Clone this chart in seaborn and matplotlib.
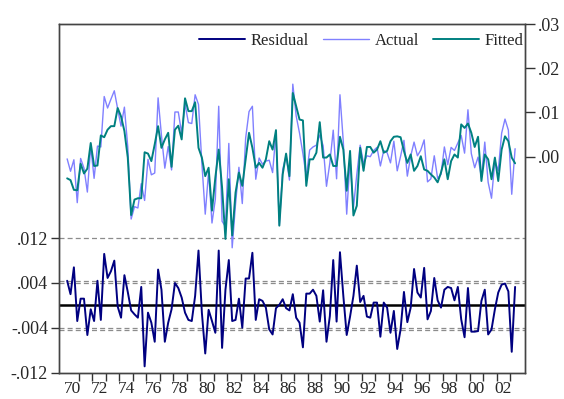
import numpy as np
import pandas as pd
import matplotlib
matplotlib.use("Agg")
import matplotlib.pyplot as plt
import seaborn as sns

# quarterly observations, 1970Q1 - 2003Q2
years = np.repeat(np.arange(1970, 2004), 4)[:134]
quarters = np.tile([1, 2, 3, 4], 34)[:134]

fitted = [
    -0.0049, -0.0053, -0.0075, -0.0076, -0.0016, -0.0038, -0.0027, 0.0031, -0.0021, -0.0020,
    0.0048, 0.0044, 0.0061, 0.0069, 0.0069, 0.0110, 0.0091, 0.0058, -0.0002, -0.0132,
    -0.0097, -0.0094, -0.0094, 0.0010, 0.0007, -0.0010, 0.0028, 0.0069, 0.0020, 0.0039,
    0.0054, -0.0023, 0.0061, 0.0070, 0.0039, 0.0132, 0.0103, 0.0103, 0.0123, 0.0020,
    -0.0002, -0.0044, -0.0025, -0.0122, -0.0047, 0.0016, -0.0070, -0.0186, -0.0051, -0.0178,
    -0.0081, -0.0036, -0.0066, -0.0006, 0.0054, 0.0020, -0.0025, -0.0014, -0.0025, -0.0006,
    0.0035, 0.0016, 0.0060, -0.0156, -0.0040, 0.0007, -0.0044, 0.0144, 0.0114, 0.0084,
    0.0082, -0.0066, -0.0006, -0.0006, 0.0009, 0.0078, -0.0002, -0.0002, 0.0005, -0.0021,
    -0.0021, 0.0045, 0.0016, -0.0077, 0.0013, -0.0133, -0.0111, 0.0020, -0.0032, 0.0022,
    0.0022, 0.0009, 0.0016, 0.0035, 0.0009, 0.0013, 0.0035, 0.0045, 0.0046, 0.0044,
    0.0013, -0.0014, 0.0005, -0.0032, -0.0021, 0.0001, -0.0029, -0.0032, -0.0040, -0.0047,
    -0.0058, -0.0036, -0.0006, -0.0051, -0.0010, 0.0005, -0.0002, 0.0073, 0.0065, 0.0075,
    0.0054, 0.0022, 0.0045, -0.0055, 0.0005, -0.0006, -0.0051, -0.0002, -0.0055, 0.0016,
    0.0046, 0.0035, -0.0002, -0.0015,
]

residual = [
    0.0044, 0.0020, 0.0068, -0.0028, 0.0012, 0.0012, -0.0053, -0.0007, -0.0028, 0.0044,
    -0.0026, 0.0092, 0.0049, 0.0061, 0.0080, -0.0002, -0.0022, 0.0054, 0.0024, -0.0009,
    -0.0016, -0.0022, 0.0033, -0.0109, -0.0013, -0.0031, -0.0065, 0.0064, 0.0028, -0.0065,
    -0.0031, -0.0007, 0.0040, 0.0031, 0.0014, -0.0013, -0.0026, -0.0028, 0.0017, 0.0098,
    -0.0013, -0.0086, -0.0008, -0.0028, -0.0049, 0.0098, -0.0076, 0.0028, 0.0081, -0.0028,
    -0.0026, 0.0012, -0.0040, 0.0048, 0.0048, 0.0094, -0.0026, 0.0011, 0.0008, -0.0004,
    -0.0043, -0.0052, -0.0005, 0.0001, 0.0011, -0.0005, -0.0009, 0.0020, -0.0022, -0.0031,
    -0.0075, 0.0021, 0.0021, 0.0028, 0.0017, -0.0029, 0.0027, -0.0065, -0.0019, 0.0081,
    -0.0029, 0.0095, 0.0017, -0.0053, -0.0020, 0.0017, 0.0071, 0.0006, 0.0017, -0.0020,
    -0.0022, 0.0005, 0.0005, -0.0056, 0.0005, -0.0004, -0.0049, -0.0010, -0.0078, -0.0043,
    0.0024, -0.0030, -0.0004, 0.0065, 0.0023, 0.0014, 0.0067, -0.0025, -0.0010, 0.0049,
    0.0009, -0.0004, 0.0028, 0.0033, 0.0031, 0.0009, 0.0033, -0.0025, -0.0057, 0.0031,
    -0.0047, -0.0047, -0.0046, 0.0008, 0.0028, -0.0052, -0.0043, -0.0007, 0.0023, 0.0037,
    0.0039, 0.0025, -0.0083, 0.0033,
]

se = 0.0044  # +/- 1 S.E. band on the residual
year_labels = ["70", "72", "74", "76", "78", "80", "82", "84", "86",
               "88", "90", "92", "94", "96", "98", "00", "02"]

df = pd.DataFrame({"t": years + (quarters - 0.5) / 4,
                   "Fitted": fitted, "Residual": residual})
# residual = actual - fitted
df["Actual"] = df["Fitted"] + df["Residual"]

sns.set_style("ticks")
plt.rcParams["font.family"] = ["Liberation Serif", "DejaVu Serif"]

fig = plt.figure(figsize=(5.64, 3.99), dpi=100)
ax = fig.add_axes([59 / 564, 1 - 372.5 / 399, 466 / 564, 348.5 / 399])
ax2 = ax.twinx()

# grid + S.E. lines + zero line on the residual axis
for v in [0.012, 0.004, -0.004, se, -se]:
    ax.axhline(v, color="#8c8c8c", lw=0.9, ls=(0, (4, 2.5)), zorder=1)
ax.axhline(0, color="black", lw=1.8, zorder=2)

sns.lineplot(data=df, x="t", y="Residual", ax=ax, color="#000080",
             linewidth=1.4, label="Residual", zorder=3)
sns.lineplot(data=df, x="t", y="Actual", ax=ax2, color="#8080ff",
             linewidth=1.0, label="Actual")
sns.lineplot(data=df, x="t", y="Fitted", ax=ax2, color="#008080",
             linewidth=1.4, label="Fitted")

ax.set_xlim(1969.52, 2004.11)
ax.set_ylim(-0.0120, 0.0503)
ax2.set_ylim(-0.0488, 0.03)

ax.set_yticks([-0.012, -0.004, 0.004, 0.012])
ax.set_yticklabels([f"{v:.3f}".replace("0.", ".") for v in [-0.012, -0.004, 0.004, 0.012]])
ax2.set_yticks([0.0, 0.01, 0.02, 0.03])
ax2.set_yticklabels([f"{v:.2f}".replace("0.", ".") for v in [0.0, 0.01, 0.02, 0.03]])

ax.set_xticks(np.arange(1971, 2004))
ax.set_xticklabels([])
ax.set_xticks(np.arange(1970, 2004, 2) + 0.5, minor=True)
ax.set_xticklabels(year_labels, minor=True)

ax.tick_params(axis="y", direction="out", length=6, width=1, labelsize=13, pad=2,
               right=False, color="#333333")
ax2.tick_params(axis="y", direction="out", length=7, width=1, labelsize=13, pad=2,
                left=False, color="#333333")
ax.tick_params(axis="x", which="major", direction="out", length=6, width=1, color="#333333")
ax.tick_params(axis="x", which="minor", length=0, labelsize=12.5, pad=6)

for a in (ax, ax2):
    a.set_xlabel("")
    a.set_ylabel("")
    for s in a.spines.values():
        s.set_color("#444444")
        s.set_linewidth(1.0)

h1, l1 = ax.get_legend_handles_labels()
h2, l2 = ax2.get_legend_handles_labels()
for a in (ax, ax2):
    if a.get_legend() is not None:
        a.get_legend().remove()
ax2.legend(h1 + h2, l1 + l2, ncol=3, loc="center right", bbox_to_anchor=(0.997, 0.951),
           frameon=False, fontsize=12, handlelength=2.75, handletextpad=0.35,
           columnspacing=0.85, borderaxespad=0, borderpad=0)

plt.savefig("out.png", dpi=100)
